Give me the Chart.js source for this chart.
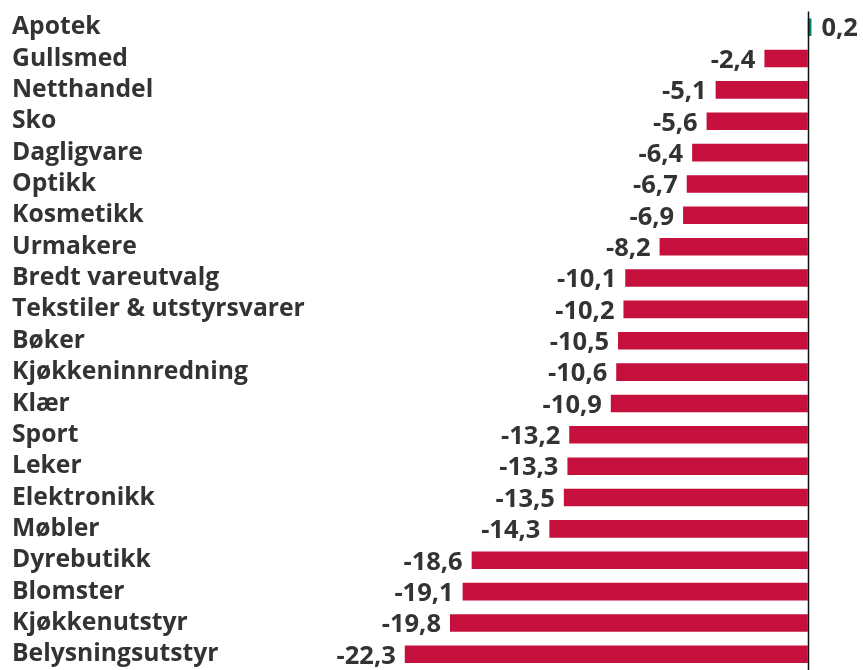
<!DOCTYPE html>
<html><head><meta charset="utf-8">
<script src="https://cdn.jsdelivr.net/npm/chart.js@4"></script>
<style>html,body{margin:0;padding:0;background:#fff}#wrap{width:863px;height:670px}</style>
</head><body><div id="wrap"><canvas id="c"></canvas></div>
<script>
const categories = ["Apotek","Gullsmed","Netthandel","Sko","Dagligvare","Optikk","Kosmetikk","Urmakere","Bredt vareutvalg","Tekstiler & utstyrsvarer","Bøker","Kjøkkeninnredning","Klær","Sport","Leker","Elektronikk","Møbler","Dyrebutikk","Blomster","Kjøkkenutstyr","Belysningsutstyr"];
const values = [0.2,-2.4,-5.1,-5.6,-6.4,-6.7,-6.9,-8.2,-10.1,-10.2,-10.5,-10.6,-10.9,-13.2,-13.3,-13.5,-14.3,-18.6,-19.1,-19.8,-22.3];
const posColor = "#00796B", negColor = "#C50F3C";
const FONT = "'Open Sans', 'Noto Sans', sans-serif";
const textColor = "#333333";

const labelPlugin = {
  id: 'vals',
  afterDatasetsDraw(chart) {
    const ctx = chart.ctx;
    const meta = chart.getDatasetMeta(0);
    const xs = chart.scales.x;
    ctx.save();
    ctx.font = "bold 25.5px " + FONT;
    ctx.fillStyle = textColor;
    ctx.textBaseline = 'middle';
    meta.data.forEach((bar, i) => {
      const v = values[i];
      const txt = v.toFixed(1).replace('.', ',');
      if (v >= 0) { ctx.textAlign = 'left'; ctx.fillText(txt, bar.x + 10, bar.y + 2); }
      else { ctx.textAlign = 'right'; ctx.fillText(txt, bar.x - 9, bar.y + 2); }
    });
    const x0 = Math.round(xs.getPixelForValue(0)) + 0.5;
    ctx.strokeStyle = '#111';
    ctx.lineWidth = 1.5;
    ctx.beginPath();
    ctx.moveTo(x0, chart.chartArea.top);
    ctx.lineTo(x0, 670);
    ctx.stroke();
    ctx.restore();
  }
};

new Chart(document.getElementById('c'), {
  type: 'bar',
  data: {
    labels: categories,
    datasets: [{
      data: values,
      backgroundColor: values.map(v => v >= 0 ? posColor : negColor),
      barPercentage: 0.56,
      categoryPercentage: 1.0,
      borderWidth: 0
    }]
  },
  options: {
    indexAxis: 'y',
    responsive: true,
    maintainAspectRatio: false,
    animation: false,
    layout: { padding: { left: 12, right: 1, top: 11.5, bottom: 0 } },
    plugins: { legend: { display: false }, tooltip: { enabled: false } },
    scales: {
      x: { min: -25, max: 3, display: false },
      y: {
        afterFit(scale) { scale.width = 344; scale.paddingTop = 0; scale.paddingBottom = 0; },
        grid: { display: false },
        border: { display: false },
        ticks: {
          crossAlign: 'far',
          padding: 0,
          color: textColor,
          font: { family: FONT, size: 24.7, weight: 'bold' },
          autoSkip: false
        }
      }
    }
  },
  plugins: [labelPlugin]
});
</script></body></html>
